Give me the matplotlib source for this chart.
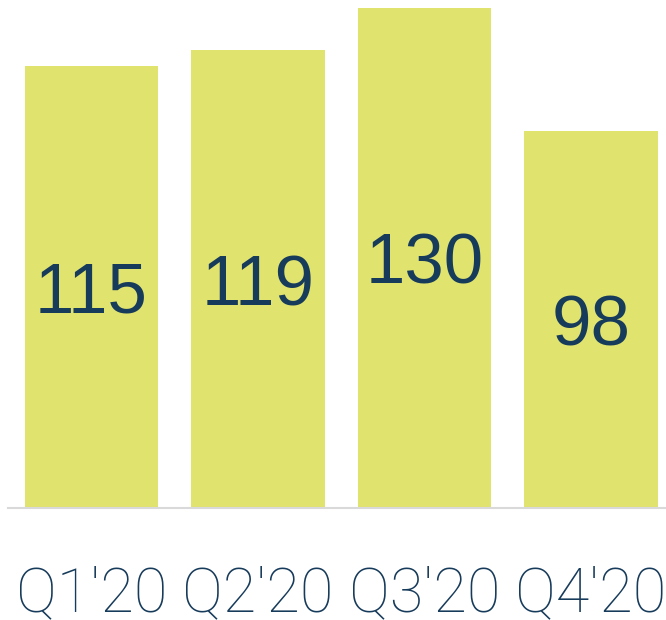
import matplotlib
matplotlib.use("Agg")
import matplotlib.pyplot as plt

categories = ["Q1'20", "Q2'20", "Q3'20", "Q4'20"]
values = [115, 119, 130, 98]

bar_color = "#E0E36E"
text_color = "#173B5A"

fig = plt.figure(figsize=(6.66, 6.20), dpi=100)
ax = fig.add_axes([8.25 / 666, 112 / 620, 666 / 666, 500 / 620])
x = list(range(len(categories)))
bars = ax.bar(x, values, width=0.8, color=bar_color, zorder=2)
ax.set_xlim(-0.5, 3.5)
ax.set_ylim(0, 130)

for xi, v in zip(x, values):
    ax.annotate(str(v), (xi, v / 2), xytext=(0, -18.7), textcoords="offset points",
                ha="center", va="baseline", fontsize=51,
                family="Liberation Sans", color=text_color)

for s in ["top", "right", "left"]:
    ax.spines[s].set_visible(False)
ax.spines["bottom"].set_color("#D9D9D9")
ax.spines["bottom"].set_linewidth(1.5)
ax.set_yticks([])
ax.set_xticks(x)
ax.set_xticklabels(categories, fontsize=44, family="Roboto", fontweight="light",
                   color=text_color)
ax.tick_params(axis="x", length=0, pad=41)

fig.savefig("out.png", dpi=100)
